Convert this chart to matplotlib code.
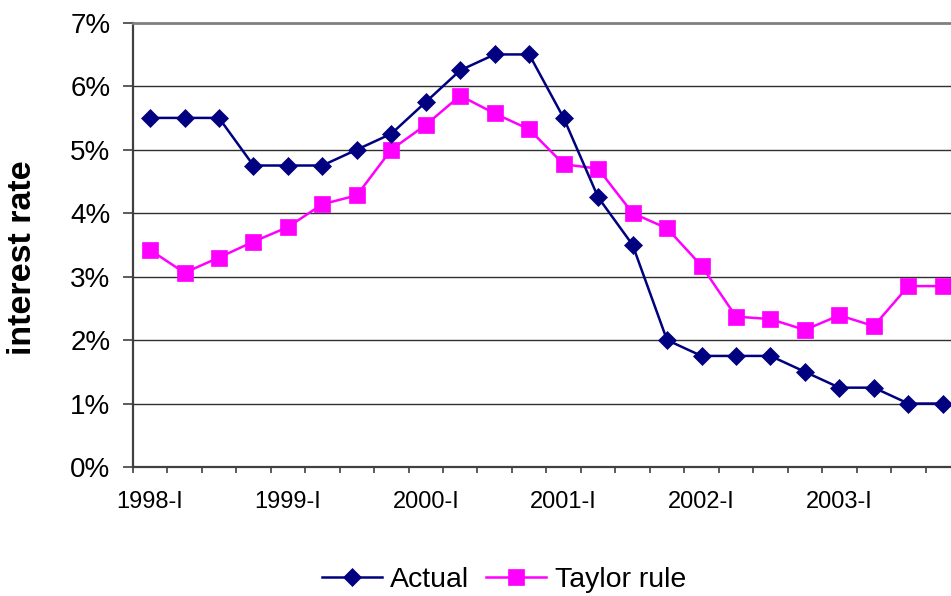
import matplotlib
matplotlib.use("Agg")
import matplotlib.pyplot as plt
import numpy as np

quarters = [f"{y}-{q}" for y in range(1998, 2004) for q in ["I", "II", "III", "IV"]]
actual = [5.5, 5.5, 5.5, 4.75, 4.75, 4.75, 5.0, 5.25,
          5.75, 6.25, 6.5, 6.5, 5.5, 4.25, 3.5, 2.0,
          1.75, 1.75, 1.75, 1.5, 1.25, 1.25, 1.0, 1.0]
taylor = [3.42, 3.06, 3.30, 3.55, 3.78, 4.14, 4.28, 5.0,
          5.39, 5.85, 5.57, 5.32, 4.77, 4.70, 4.0, 3.76,
          3.17, 2.37, 2.33, 2.16, 2.39, 2.22, 2.85, 2.85]
yticks = [0, 1, 2, 3, 4, 5, 6, 7]
ytick_labels = [f"{v}%" for v in yticks]

plt.rcParams['font.family'] = ['Liberation Sans', 'DejaVu Sans']

fig = plt.figure(figsize=(9.51, 5.96), dpi=100)
ax = fig.add_axes([132.8 / 951, 1 - 467 / 596, (960 - 132.8) / 951, (467 - 22.7) / 596])

x = np.arange(len(quarters))
ax.plot(x, actual, color='#000080', lw=1.8, marker='D', ms=9.5,
        mfc='#000080', mec='#000080', mew=0.5, label='Actual', zorder=4, clip_on=False)
ax.plot(x, taylor, color='#FF00FF', lw=1.8, marker='s', ms=11,
        mfc='#FF00FF', mec='#FF00FF', mew=0.5, label='Taylor rule', zorder=3, clip_on=False)

ax.set_xlim(-0.5, len(quarters) - 0.5)
ax.set_ylim(0, 7)

for v in yticks[1:-1]:
    ax.axhline(v, color='#303030', lw=1.0, zorder=1)

ax.set_yticks(yticks)
ax.set_yticklabels(ytick_labels, fontsize=20)
ax.tick_params(axis='y', direction='out', length=7, width=1.2, color='#404040', pad=9)

major_pos = x[::4]
ax.set_xticks(major_pos)
ax.set_xticklabels([quarters[i] for i in major_pos], fontsize=17)
ax.set_xticks(np.arange(-0.5, len(quarters), 1.0), minor=True)
ax.tick_params(axis='x', which='major', length=0, pad=17)
ax.tick_params(axis='x', which='minor', direction='out', length=4.5, width=1.2, color='#404040')

ax.spines['right'].set_visible(False)
ax.spines['top'].set_color('#808080')
ax.spines['top'].set_linewidth(2.0)
ax.spines['left'].set_color('#404040')
ax.spines['left'].set_linewidth(1.6)
ax.spines['bottom'].set_color('#404040')
ax.spines['bottom'].set_linewidth(1.6)

fig.text(23 / 951, 1 - 258 / 596, 'interest rate', rotation=90, fontsize=24.5,
         fontweight='bold', ha='center', va='center')

fig.legend(loc='center', bbox_to_anchor=(504 / 951, 1 - 580 / 596), ncol=2,
           frameon=False, fontsize=20.5, handlelength=2.1, handletextpad=0.3,
           columnspacing=0.6, borderpad=0.1)

fig.savefig('out.png', dpi=100)
